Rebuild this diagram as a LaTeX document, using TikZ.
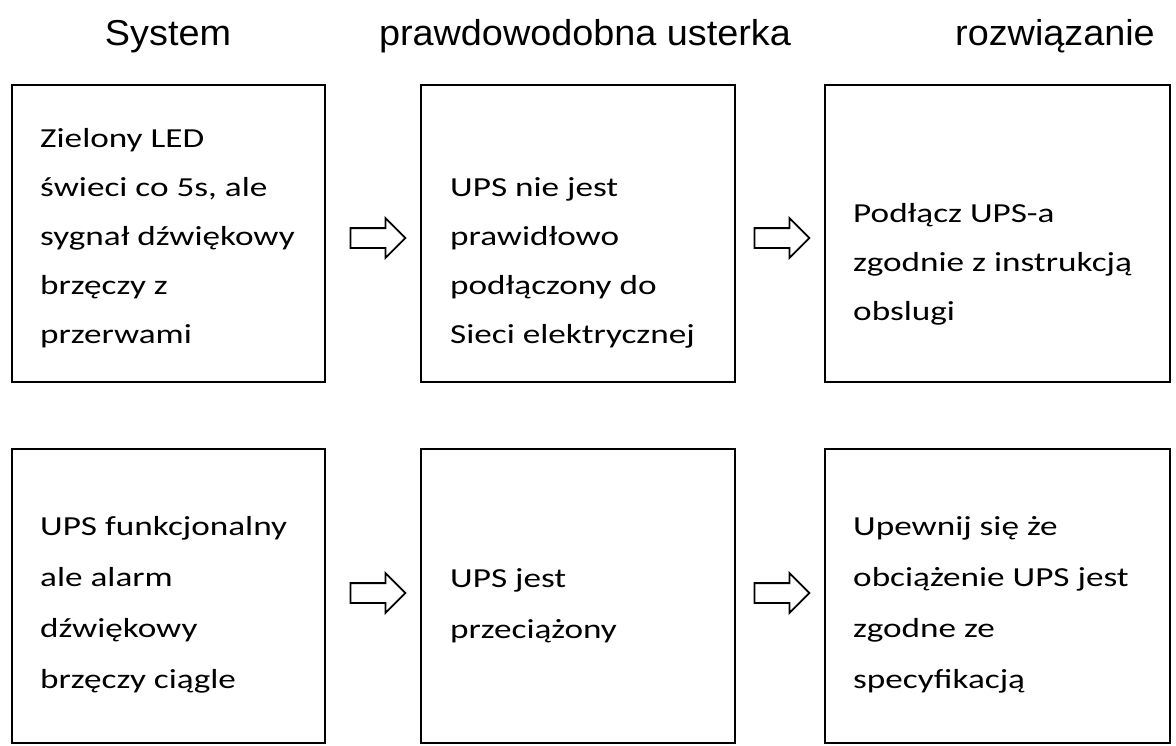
\documentclass[tikz,border=0pt]{standalone}
\usepackage{fontspec}
\setmainfont{Carlito}[FakeStretch=1.28]
\newfontfamily\hdr{Liberation Sans}[FakeStretch=1.05]
\usetikzlibrary{shapes.arrows}
\begin{document}
\begin{tikzpicture}[x=1pt,y=-1pt,
  box/.style={draw,line width=2pt,inner sep=0pt},
  txt/.style={anchor=base west,inner sep=0pt,align=left,font=\fontsize{27.5}{49}\selectfont},
  txtb/.style={txt,font=\fontsize{27.5}{51}\selectfont},
  hd/.style={anchor=base,inner sep=0pt,font=\hdr\fontsize{36}{40}\selectfont},
  arr/.style={single arrow,draw,line width=1.8pt,fill=white,inner xsep=0pt,inner ysep=9pt,
    minimum height=55pt,single arrow head extend=10pt,anchor=center}]
\useasboundingbox (0,0) rectangle (1176,745);
\node[hd] (h1) at (168,45) {System};
\node[hd] (h2) at (585,45) {prawdowodobna usterka};
\node[hd] (h3) at (1055,45) {rozwiązanie};
% boxes
\node[box] (b11) at (168.5,233.5) [minimum width=313pt,minimum height=297pt] {};
\node[box] (b12) at (578,233.5) [minimum width=314pt,minimum height=297pt] {};
\node[box] (b13) at (997.5,233.5) [minimum width=345pt,minimum height=297pt] {};
\node[box] (b21) at (168.5,596) [minimum width=313pt,minimum height=294pt] {};
\node[box] (b22) at (578,596) [minimum width=314pt,minimum height=294pt] {};
\node[box] (b23) at (997.5,596) [minimum width=345pt,minimum height=294pt] {};
% texts (anchored at the baseline of the last line)
\node[txt] (t11) at (40,343) {Zielony LED\\świeci co 5s, ale\\sygnał dźwiękowy\\brzęczy z\\przerwami};
\node[txt] (t12) at (450,343) {UPS nie jest\\prawidłowo\\podłączony do\\Sieci elektrycznej};
\node[txt] (t13) at (853,320) {Podłącz UPS-a\\zgodnie z instrukcją\\obslugi};
\node[txtb] (t21) at (40,688) {UPS funkcjonalny\\ale alarm\\dźwiękowy\\brzęczy ciągle};
\node[txtb] (t22) at (450,638) {UPS jest\\przeciążony};
\node[txtb] (t23) at (853,688) {Upewnij się że\\obciążenie UPS jest\\zgodne ze\\specyfikacją};
% arrows
\node[arr] (a11) at (373,238) {};
\node[arr] (a12) at (777,238) {};
\node[arr] (a21) at (373,593) {};
\node[arr] (a22) at (777,593) {};
\end{tikzpicture}
\end{document}
